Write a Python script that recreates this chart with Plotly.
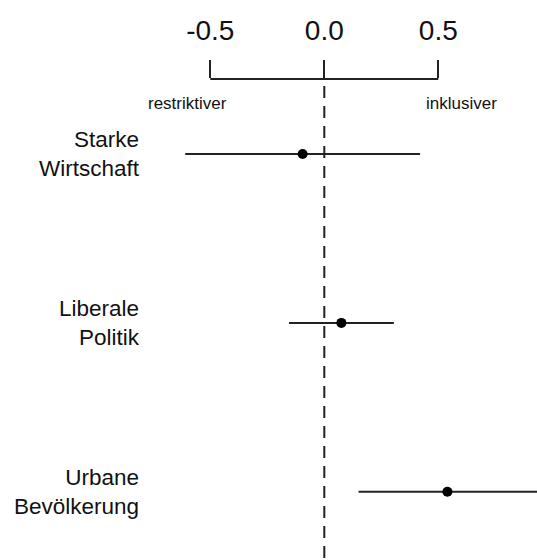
import plotly.graph_objects as go

# Data
categories = ["Starke<br>Wirtschaft", "Liberale<br>Politik", "Urbane<br>Bevölkerung"]
estimates = [-0.095, 0.075, 0.54]
ci_low = [-0.61, -0.155, 0.15]
ci_high = [0.42, 0.305, 0.96]
tick_vals = [-0.5, 0.0, 0.5]
tick_text = ["-0.5", "0.0", "0.5"]
direction_labels = ["restriktiver", "inklusiver"]
direction_pos = [-0.6, 0.6]

positions = list(range(1, len(categories) + 1))
x_range = [-0.7996, 0.9329]
y_range = [3.404, 0.556]

LINE = "#222222"
FONT = "Liberation Sans, Arial, Helvetica, sans-serif"

fig = go.Figure()

# reference line at zero
fig.add_trace(go.Scatter(
    x=[0, 0], y=[y_range[1] + 0.042, y_range[0]], mode="lines",
    line=dict(color=LINE, width=2, dash="12px,8px"),
    hoverinfo="skip", showlegend=False))

# confidence intervals
for pos, lo, hi in zip(positions, ci_low, ci_high):
    fig.add_trace(go.Scatter(
        x=[lo, hi], y=[pos, pos], mode="lines",
        line=dict(color=LINE, width=2), hoverinfo="skip", showlegend=False))

# point estimates
fig.add_trace(go.Scatter(
    x=estimates, y=positions, mode="markers",
    marker=dict(color="black", size=10), showlegend=False))

# bracket line of the top axis
fig.add_shape(type="line", xref="x", yref="paper",
              x0=tick_vals[0], x1=tick_vals[-1], y0=1, y1=1,
              line=dict(color=LINE, width=2))

for lab, pos in zip(direction_labels, direction_pos):
    fig.add_annotation(x=pos, xref="x", y=1 - 25 / 481, yref="paper",
                       text=lab, showarrow=False,
                       font=dict(size=17, color="#111", family=FONT),
                       xanchor="center", yanchor="middle")

fig.update_layout(
    width=537, height=560,
    margin=dict(l=142, r=0, t=79, b=0, autoexpand=False),
    paper_bgcolor="white", plot_bgcolor="white",
    font=dict(family=FONT, color="#111"),
    xaxis=dict(side="top", range=x_range, tickvals=tick_vals, ticktext=tick_text,
               showgrid=False, zeroline=False, showline=False, automargin=False,
               ticks="outside", ticklen=18, tickwidth=2, tickcolor=LINE,
               tickfont=dict(size=28, color="#111", family=FONT),
               ticklabelstandoff=9),
    yaxis=dict(range=y_range, tickvals=positions, ticktext=categories,
               showgrid=False, zeroline=False, showline=False, ticks="",
               automargin=False, ticklabelstandoff=2,
               tickfont=dict(size=22.5, color="#111", family=FONT)),
)

fig.write_html(
    "out.html",
    config={"displayModeBar": False},
    post_script="document.body.style.margin='0';document.body.style.overflow='hidden';",
)
